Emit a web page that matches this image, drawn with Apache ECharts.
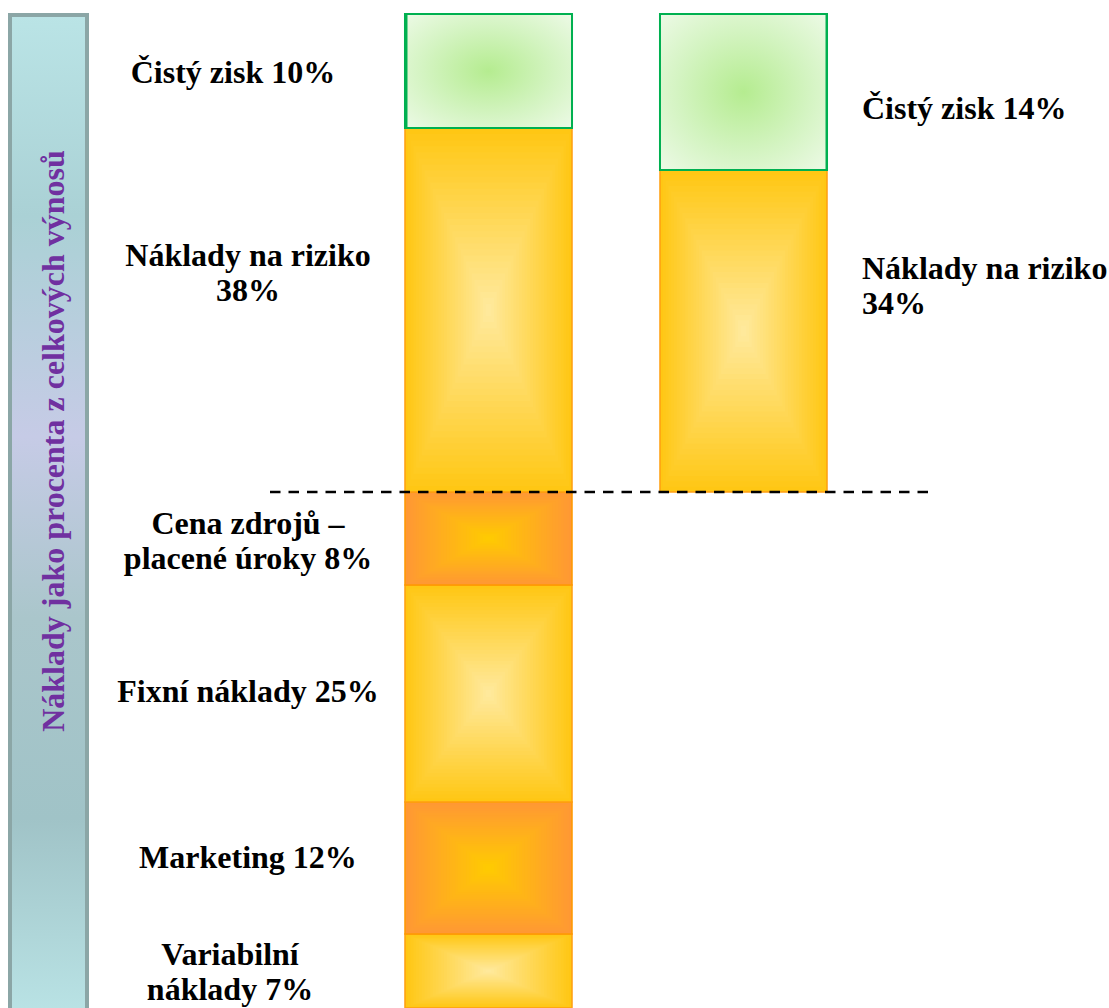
<!DOCTYPE html>
<html><head><meta charset="utf-8">
<script src="https://cdn.jsdelivr.net/npm/echarts@6/dist/echarts.min.js"></script>
<style>html,body{margin:0;padding:0;background:#fff}#c{width:1109px;height:1008px}</style>
</head><body><div id="c"></div>
<script>
// ---------- data ----------
const categories = ['Struktura 1', 'Struktura 2'];
// bar 1 segments, bottom -> top (bottom segment cut by the picture edge)
const bar1Names = ['Variabilní\nnáklady', 'Marketing', 'Fixní náklady', 'Cena zdrojů –\nplacené úroky', 'Náklady na riziko\n', 'Čistý zisk'];
const bar1Pct = [7, 12, 25, 8, 38, 10];
const bar1Heights = [7.4, 13.2, 21.7, 9.3, 36.4, 11.4];   // drawn heights
// bar 2 segments, bottom -> top (floating on the dashed level)
const bar2Names = ['Náklady na riziko\n', 'Čistý zisk'];
const bar2Pct = [34, 14];
const bar2Heights = [32.2, 15.6];
const bar2Base = 51.6;
const referenceLevel = 51.6;
const yMax = 99.4;
const axisTitle = 'Náklady jako procenta z celkových výnosů';

// ---------- style ----------
const bar1Kinds = ['yellow', 'orange', 'yellow', 'orange', 'yellow', 'green'];
const bar2Kinds = ['yellow', 'green'];
const bar1LabelOff = [[-18, 0], [0, -11], [0, -3], [0, 1.5], [0, -38], [-15, 1]];
const bar2LabelOff = [[0, -46], [0, 16]];
const palette = {
  yellow: { edge: [255, 199, 20], center: [255, 234, 160], stroke: '#FF9F10' },
  orange: { edge: [255, 152, 52], center: [255, 204, 0], stroke: '#FF9900' }
};

function label(name, pct) { return name + (name.endsWith('\n') ? '' : ' ') + pct + '%'; }

const segs = [];
function build(cat, base, heights, names, pcts, kinds, offs) {
  let acc = base;
  heights.forEach((h, i) => {
    segs.push({ value: [cat, acc, acc + h], text: label(names[i], pcts[i]), kind: kinds[i], off: offs[i] });
    acc += h;
  });
}
build(0, 0, bar1Heights, bar1Names, bar1Pct, bar1Kinds, bar1LabelOff);
build(1, bar2Base, bar2Heights, bar2Names, bar2Pct, bar2Kinds, bar2LabelOff);

function mix(a, b, t) {
  return 'rgb(' + a.map((v, k) => Math.round(v + (b[k] - v) * t)).join(',') + ')';
}

function renderItem(params, api) {
  const s = segs[params.dataIndex];
  const cat = api.value(0);
  const p0 = api.coord([cat, api.value(1)]);
  const p1 = api.coord([cat, api.value(2)]);
  const bw = api.size([1, 0])[0] * 0.655;
  const x0 = p0[0] - bw / 2, y0 = p1[1], w = bw, h = p0[1] - p1[1];
  const children = [];
  if (s.kind === 'green') {
    children.push({
      type: 'rect', shape: { x: x0, y: y0, width: w, height: h },
      style: {
        fill: { type: 'radial', x: 0.5, y: 0.5, r: 0.72, colorStops: [
          { offset: 0, color: '#B5EC90' }, { offset: 0.55, color: '#D4F4C2' }, { offset: 1, color: '#EEFAE8' }] },
        stroke: '#00B050', lineWidth: 2
      }
    });
    children.push({ type: 'line', shape: cat === 0 ? { x1: x0 + 1.5, y1: y0, x2: x0 + 1.5, y2: y0 + h } : { x1: x0 + w - 0.5, y1: y0, x2: x0 + w - 0.5, y2: y0 + h },
      style: { stroke: '#00B050', lineWidth: 2 } });
  } else {
    const pal = palette[s.kind];
    const N = 30;
    for (let i = 0; i < N; i++) {
      const t = i / N;
      const ix = t * w / 2, iy = t * h / 2;
      const e = Math.pow(t, 1.0);
      children.push({ type: 'rect', shape: { x: x0 + ix, y: y0 + iy, width: w - 2 * ix, height: h - 2 * iy },
        style: { fill: mix(pal.edge, pal.center, e) } });
    }
    children.push({ type: 'rect', shape: { x: x0, y: y0, width: w, height: h },
      style: { fill: 'none', stroke: pal.stroke, lineWidth: 1.5 } });
  }
  const left = cat === 0;
  children.push({
    type: 'text',
    style: {
      text: s.text,
      x: (left ? x0 - 157 : x0 + w + 35) + s.off[0],
      y: y0 + h / 2 + s.off[1],
      align: left ? 'center' : 'left',
      verticalAlign: 'middle',
      fontFamily: '"Liberation Serif", "Times New Roman", serif',
      fontWeight: 'bold', fontSize: 32, lineHeight: 35, fill: '#000'
    }
  });
  return { type: 'group', children };
}

const chart = echarts.init(document.getElementById('c'), null, { renderer: 'svg' });
chart.setOption({
  animation: false,
  backgroundColor: '#fff',
  grid: [
    { left: 361, top: 14, width: 510, bottom: 0 },
    { left: 0, top: 14, right: 0, bottom: 0 }
  ],
  xAxis: [
    { type: 'category', data: categories, gridIndex: 0, show: false },
    { type: 'value', gridIndex: 1, min: 0, max: 1109, show: false }
  ],
  yAxis: [
    { type: 'value', gridIndex: 0, min: 0, max: yMax, show: false },
    { type: 'value', gridIndex: 1, min: 0, max: yMax, show: false }
  ],
  graphic: [{
    type: 'group', silent: true,
    children: [
      { type: 'rect', shape: { x: 10, y: 15, width: 77, height: 1005 },
        style: { fill: { type: 'linear', x: 0, y: 0, x2: 0, y2: 1, colorStops: [
          { offset: 0, color: '#BAE4E6' }, { offset: 0.2, color: '#AAD1D5' }, { offset: 0.42, color: '#C6CBE6' },
          { offset: 0.6, color: '#AAC6CB' }, { offset: 0.8, color: '#A0C3C7' }, { offset: 1, color: '#BAE4E6' }] },
          stroke: '#8BA6A6', lineWidth: 4 } },
      { type: 'text', x: 53, y: 441, rotation: Math.PI / 2,
        style: { text: axisTitle, align: 'center', verticalAlign: 'middle', fill: '#7030A0',
          fontFamily: '"Liberation Serif", "Times New Roman", serif', fontWeight: 'bold', fontSize: 32 } }
    ]
  }],
  series: [
    { type: 'custom', xAxisIndex: 0, yAxisIndex: 0, renderItem, data: segs.map(s => s.value), z: 2, clip: false },
    { type: 'line', xAxisIndex: 1, yAxisIndex: 1, data: [[270, referenceLevel], [930, referenceLevel]],
      symbol: 'none', silent: true, z: 5,
      lineStyle: { color: '#000', width: 2.5, type: [10.5, 8] } }
  ]
});
</script></body></html>
